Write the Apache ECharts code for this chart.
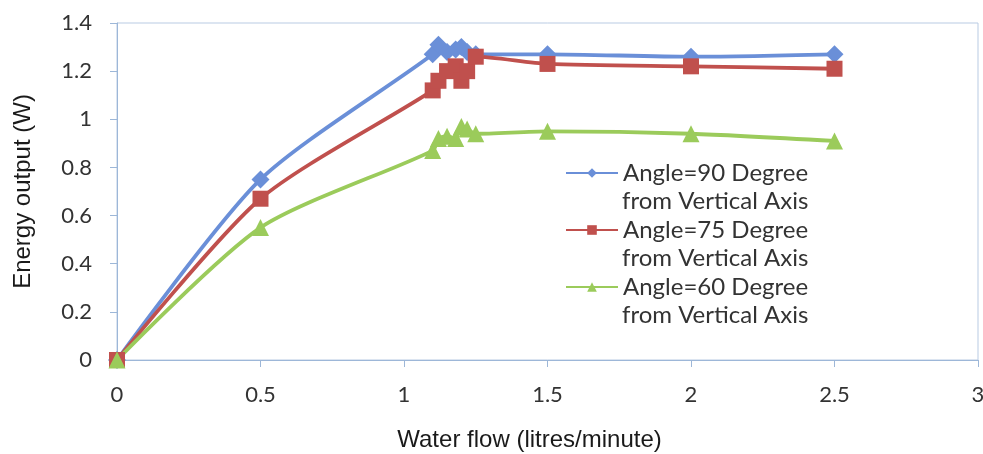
<!DOCTYPE html>
<html>
<head>
<meta charset="utf-8">
<script src="https://cdn.jsdelivr.net/npm/echarts@6/dist/echarts.min.js"></script>
<style>html,body{margin:0;padding:0;background:#fff}#c{width:983px;height:454px}</style>
</head>
<body>
<div id="c"></div>
<script>
// Water flow (litres/minute)
const flowRates = [0, 0.5, 1.1, 1.12, 1.15, 1.18, 1.2, 1.22, 1.25, 1.5, 2, 2.5];
// Energy output (W)
const energy90 = [0, 0.75, 1.27, 1.31, 1.28, 1.29, 1.30, 1.28, 1.27, 1.27, 1.26, 1.27];
const energy75 = [0, 0.67, 1.12, 1.16, 1.20, 1.22, 1.16, 1.20, 1.26, 1.23, 1.22, 1.21];
const energy60 = [0, 0.55, 0.87, 0.92, 0.93, 0.92, 0.97, 0.96, 0.94, 0.95, 0.94, 0.91];
const seriesNames = ['Angle=90 Degree', 'Angle=75 Degree', 'Angle=60 Degree'];
const nameSuffix = 'from Vertical Axis';
const xTicks = [0, 0.5, 1, 1.5, 2, 2.5, 3];
const yTicks = [0, 0.2, 0.4, 0.6, 0.8, 1, 1.2, 1.4];

const pair = (ys) => flowRates.map((x, i) => [x, ys[i]]);
const colors = ['#6A8FD8', '#C0504D', '#9BCB5B'];
const symbols = ['diamond', 'rect', 'triangle'];
const sizes = [18, 16, 17];
const datasets = [energy90, energy75, energy60];

const chart = echarts.init(document.getElementById('c'));
const axisCol = '#9DB7D8';
chart.setOption({
  animation: false,
  backgroundColor: '#fff',
  grid: { left: 117, right: 5, top: 23, bottom: 94, show: true, borderColor: '#B9CBE3', borderWidth: 1,
    containLabel: false, outerBoundsMode: 'none' },
  xAxis: {
    type: 'value', min: xTicks[0], max: xTicks[xTicks.length - 1], interval: 0.5,
    name: 'Water flow (litres/minute)', nameLocation: 'middle', nameGap: 68,
    nameTextStyle: { fontFamily: 'Liberation Sans', fontSize: 24, color: '#1a1a1a', padding: [0, 36, 0, 0] },
    axisLine: { lineStyle: { color: axisCol } },
    axisTick: { show: true, length: 7, inside: false, lineStyle: { color: axisCol } },
    axisLabel: { margin: 24, fontFamily: 'Lato', fontSize: 22, color: '#333',
      formatter: (v) => String(v) },
    splitLine: { show: false }
  },
  yAxis: {
    type: 'value', min: yTicks[0], max: yTicks[yTicks.length - 1], interval: 0.2,
    name: 'Energy output (W)', nameLocation: 'middle', nameGap: 82,
    nameTextStyle: { fontFamily: 'Liberation Sans', fontSize: 24, color: '#1a1a1a' },
    axisLine: { show: true, lineStyle: { color: axisCol } },
    axisTick: { show: true, length: 7, lineStyle: { color: axisCol } },
    axisLabel: { margin: 25, fontFamily: 'Lato', fontSize: 22, color: '#333',
      formatter: (v) => String(+v.toFixed(1)) },
    splitLine: { show: false }
  },
  legend: {
    orient: 'vertical', left: 560, top: 154,
    itemWidth: 52, itemHeight: 12, itemGap: 29,
    textStyle: { fontFamily: 'Lato', fontSize: 24, color: '#333', lineHeight: 28 },
    data: seriesNames
  },
  graphic: seriesNames.map((n, i) => ({
    type: 'text', x: 622, y: 201 + i * 57,
    style: { text: nameSuffix, font: '24px Lato', fill: '#333', verticalAlign: 'middle' }
  })),
  series: seriesNames.map((n, i) => ({
    name: n, type: 'line', data: pair(datasets[i]),
    smooth: 0.25, symbol: symbols[i], symbolSize: sizes[i],
    lineStyle: { color: colors[i], width: 3.8 },
    itemStyle: { color: colors[i] }
  }))
});
</script>
</body>
</html>
